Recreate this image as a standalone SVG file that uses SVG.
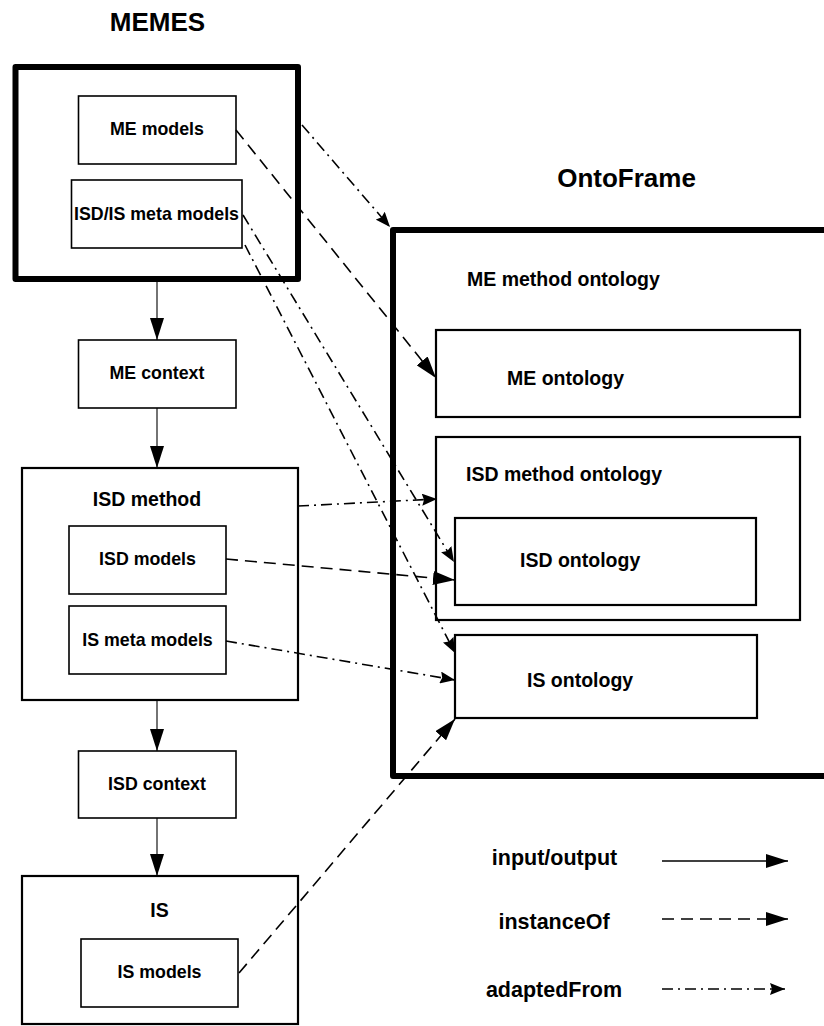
<svg xmlns="http://www.w3.org/2000/svg" width="824" height="1026" viewBox="0 0 824 1026">
  <style>
    text { font-family: "Liberation Sans", Arial, sans-serif; font-weight: bold; fill: #000; }
    .title { font-size: 26px; text-anchor: middle; }
    .lbl { font-size: 17.8px; text-anchor: middle; }
    .hdr { font-size: 19.5px; }
    .leg { font-size: 21.5px; text-anchor: middle; }
    .box { fill: #fff; stroke: #000; stroke-width: 1.6; }
    .frame { fill: #fff; stroke: #000; stroke-width: 2.2; }
    .heavy { fill: #fff; stroke: #000; stroke-width: 6; stroke-linejoin: round; }
    .flow { fill: none; stroke: #000; stroke-width: 1.1; marker-end: url(#headBig); }
    .inst { fill: none; stroke: #000; stroke-width: 1.6; stroke-dasharray: 12 7; marker-end: url(#headBig); }
    .adapt { fill: none; stroke: #000; stroke-width: 1.6; stroke-dasharray: 11 5 2 5; marker-end: url(#headSmall); }
  </style>
  <defs>
    <marker id="headBig" markerUnits="userSpaceOnUse" markerWidth="22" markerHeight="14" refX="22" refY="7" orient="auto">
      <path d="M0,0 L22,7 L0,14 Z" fill="#000"/>
    </marker>
    <marker id="headSmall" markerUnits="userSpaceOnUse" markerWidth="15" markerHeight="12" refX="15" refY="6" orient="auto">
      <path d="M0,0 L15,6 L0,12 L2,6 Z" fill="#000"/>
    </marker>
  </defs>

  <rect width="824" height="1026" fill="#fff"/>

  <!-- titles -->
  <text class="title" x="157.5" y="31">MEMES</text>
  <text class="title" x="626.5" y="187">OntoFrame</text>

  <!-- MEMES side -->
  <g id="memes">
    <rect class="heavy" x="15.5" y="67" width="282.5" height="212"/>
  </g>
  <g id="me-models">
    <rect class="box" x="78.5" y="96" width="157.5" height="68"/>
    <text class="lbl" x="157" y="135">ME models</text>
  </g>
  <g id="isd-is-meta-models">
    <rect class="box" x="71.5" y="180" width="170.5" height="68"/>
    <text class="lbl" x="156.5" y="220">ISD/IS meta models</text>
  </g>
  <g id="me-context">
    <rect class="box" x="78.5" y="340" width="157.5" height="68"/>
    <text class="lbl" x="157" y="379">ME context</text>
  </g>
  <g id="isd-method">
    <rect class="frame" x="22" y="468" width="276" height="232"/>
    <text class="hdr" x="147" y="506" text-anchor="middle">ISD method</text>
  </g>
  <g id="isd-models">
    <rect class="box" x="69" y="526" width="157" height="68"/>
    <text class="lbl" x="147.5" y="565">ISD models</text>
  </g>
  <g id="is-meta-models">
    <rect class="box" x="69" y="606" width="157" height="68"/>
    <text class="lbl" x="147.5" y="646">IS meta models</text>
  </g>
  <g id="isd-context">
    <rect class="box" x="78.5" y="751" width="157.5" height="67"/>
    <text class="lbl" x="157" y="790">ISD context</text>
  </g>
  <g id="is">
    <rect class="frame" x="22" y="876" width="276" height="148"/>
    <text class="hdr" x="159.5" y="917" text-anchor="middle">IS</text>
  </g>
  <g id="is-models">
    <rect class="box" x="81" y="939" width="157" height="68"/>
    <text class="lbl" x="159.5" y="978">IS models</text>
  </g>

  <!-- OntoFrame side -->
  <g id="ontoframe">
    <rect class="heavy" x="393" y="230" width="445" height="546"/>
    <text class="hdr" x="467" y="286">ME method ontology</text>
  </g>
  <g id="me-ontology">
    <rect class="frame" x="436" y="330" width="364" height="87"/>
    <text class="hdr" x="507" y="385">ME ontology</text>
  </g>
  <g id="isd-method-ontology">
    <rect class="frame" x="436" y="437" width="364" height="183"/>
    <text class="hdr" x="466" y="481">ISD method ontology</text>
  </g>
  <g id="isd-ontology">
    <rect class="frame" x="455" y="518" width="301" height="87"/>
    <text class="hdr" x="520" y="567">ISD ontology</text>
  </g>
  <g id="is-ontology">
    <rect class="frame" x="455" y="635" width="302" height="83"/>
    <text class="hdr" x="527" y="687">IS ontology</text>
  </g>

  <!-- connectors -->
  <g id="connectors">
    <line class="flow" x1="157" y1="282" x2="157" y2="340"/>
    <line class="flow" x1="157" y1="408" x2="157" y2="468"/>
    <line class="flow" x1="157" y1="700" x2="157" y2="751"/>
    <line class="flow" x1="157" y1="818" x2="157" y2="876"/>

    <line class="adapt" x1="302" y1="125" x2="390" y2="227"/>
    <line class="inst" x1="236" y1="130" x2="436" y2="378"/>
    <line class="adapt" x1="243" y1="215" x2="454" y2="562"/>
    <line class="adapt" x1="245" y1="245" x2="455" y2="653"/>
    <line class="adapt" x1="298" y1="506" x2="437" y2="499"/>
    <line class="inst" x1="226" y1="559" x2="455" y2="580"/>
    <line class="adapt" x1="226" y1="641" x2="455" y2="680"/>
    <line class="inst" x1="239" y1="973" x2="455" y2="719"/>
  </g>

  <!-- legend -->
  <g id="legend">
    <text class="leg" x="554.5" y="865">input/output</text>
    <line x1="662" y1="861" x2="788" y2="861" stroke="#000" stroke-width="1.5" marker-end="url(#headBig)"/>
    <text class="leg" x="554" y="929">instanceOf</text>
    <line class="inst" x1="662" y1="919" x2="788" y2="919"/>
    <text class="leg" x="554" y="997">adaptedFrom</text>
    <line class="adapt" x1="662" y1="989" x2="785" y2="989"/>
  </g>
</svg>
